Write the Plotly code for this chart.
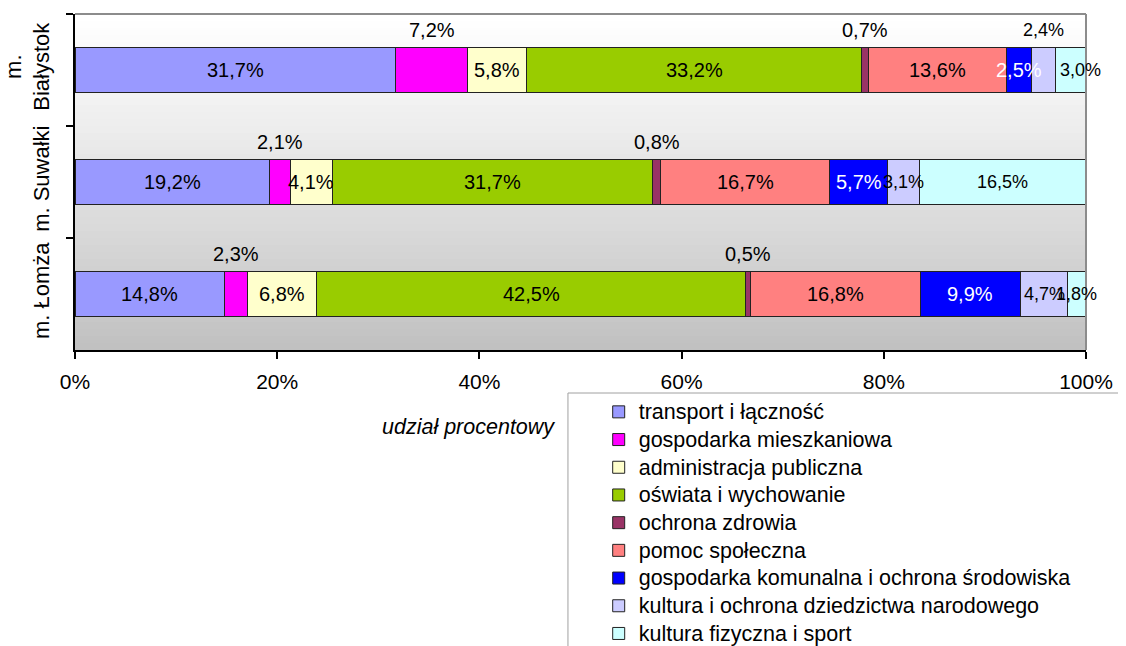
import plotly.graph_objects as go

# ---- data ----
cities = ["m.<br>Białystok", "m. Suwałki", "m. Łomża"]
series_names = [
    "transport i łączność",
    "gospodarka mieszkaniowa",
    "administracja publiczna",
    "oświata i wychowanie",
    "ochrona zdrowia",
    "pomoc społeczna",
    "gospodarka komunalna i ochrona środowiska",
    "kultura i ochrona dziedzictwa narodowego",
    "kultura fizyczna i sport",
]
transport = [31.7, 19.2, 14.8]
gosp_mieszk = [7.2, 2.1, 2.3]
administracja = [5.8, 4.1, 6.8]
oswiata = [33.2, 31.7, 42.5]
ochrona_zdrowia = [0.7, 0.8, 0.5]
pomoc = [13.6, 16.7, 16.8]
gosp_komunalna = [2.5, 5.7, 9.9]
kultura = [2.4, 3.1, 4.7]
sport = [3.0, 16.5, 1.8]
values = [transport, gosp_mieszk, administracja, oswiata, ochrona_zdrowia,
          pomoc, gosp_komunalna, kultura, sport]
x_ticks = [0, 20, 40, 60, 80, 100]
x_tick_labels = ["0%", "20%", "40%", "60%", "80%", "100%"]

# ---- style ----
colors = ["#9999FF", "#FF00FF", "#FFFFCC", "#99CC00", "#993366",
          "#FF8080", "#0000FF", "#CCCCFF", "#CCFFFF"]
label_colors = ["black", "black", "black", "black", "black",
                "black", "white", "black", "black"]
label_sizes = [20, 20, 20, 20, 20, 20, 20, 18, 18]
# labels moved above the bar (series index, city index)
above = {(1, 0), (4, 0), (7, 0), (1, 1), (4, 1), (1, 2), (4, 2)}
xshift_map = {(8, 0): 10}
FONT = "Liberation Sans, Arial, sans-serif"

fig = go.Figure()
for name, vals, col in zip(series_names, values, colors):
    fig.add_trace(go.Bar(
        y=cities, x=vals, orientation="h",
        name=f'<span style="font-size:21.5px">{name}</span>',
        marker=dict(color=col, line=dict(color="#222222", width=1)),
        width=0.4, hoverinfo="skip",
    ))

# data labels computed from the data
annotations = []
for j, city in enumerate(cities):
    total = sum(v[j] for v in values)
    cum = 0.0
    for i, vals in enumerate(values):
        v = vals[j]
        center = (cum + v / 2) / total * 100
        cum += v
        txt = f"{v:.1f}".replace(".", ",") + "%"
        is_above = (i, j) in above
        annotations.append(dict(
            x=center, y=city, xref="x", yref="y", text=txt, showarrow=False,
            yshift=40 if is_above else 0,
            xshift=xshift_map.get((i, j), 0),
            font=dict(family=FONT, size=label_sizes[i],
                      color="black" if is_above else label_colors[i]),
        ))

# axis title
annotations.append(dict(
    x=0.3897, y=-0.229, xref="paper", yref="paper", text="udział procentowy",
    showarrow=False, xanchor="center", yanchor="middle",
    font=dict(family=FONT, size=21.5, color="black", style="italic"),
))

shapes = []
N = 48
for k in range(N):
    y0 = k / N
    y1 = (k + 1) / N
    frac = 1 - (y0 + y1) / 2
    g = int(round(255 - 63 * frac ** 1.15))
    shapes.append(dict(type="rect", xref="x domain", yref="y domain",
                       x0=0, x1=1, y0=y0, y1=y1 + 0.002, layer="below",
                       line=dict(width=0), fillcolor=f"rgb({g},{g},{g})"))
# gray top/right border
shapes.append(dict(type="line", xref="x domain", yref="y domain",
                   x0=0, x1=1, y0=1, y1=1, line=dict(color="#8c8c8c", width=2)))
shapes.append(dict(type="line", xref="x domain", yref="y domain",
                   x0=1, x1=1, y0=0, y1=1, line=dict(color="#8c8c8c", width=2)))
# legend box
shapes.append(dict(type="rect", xref="paper", yref="paper",
                   x0=0.4876, x1=1.07, y0=-0.128, y1=-0.97,
                   line=dict(color="#a0a0a0", width=1), fillcolor="rgba(0,0,0,0)"))

fig.update_layout(
    width=1118, height=638,
    margin=dict(l=67, r=40, t=6, b=296, autoexpand=False),
    barmode="stack", barnorm="percent",
    paper_bgcolor="white", plot_bgcolor="white",
    font=dict(family=FONT, color="black"),
    showlegend=True,
    legend=dict(
        x=0.518, y=-0.128, xanchor="left", yanchor="top",
        traceorder="normal", font=dict(family=FONT, size=19, color="black"),
        bgcolor="rgba(0,0,0,0)", borderwidth=0, itemwidth=30,
    ),
    xaxis=dict(
        range=[0, 100], tickvals=x_ticks, ticktext=x_tick_labels,
        showgrid=False, zeroline=False, showline=True, linecolor="black",
        linewidth=2, ticks="outside", ticklen=7, tickwidth=2, tickcolor="black",
        ticklabelstandoff=5,
        tickfont=dict(family=FONT, size=21, color="black"),
    ),
    yaxis=dict(
        autorange="reversed", tickangle=-90, tickson="boundaries",
        showgrid=False, zeroline=False, showline=True, linecolor="black",
        linewidth=2, ticks="outside", ticklen=7, tickwidth=2, tickcolor="black",
        ticklabelstandoff=15,
        tickfont=dict(family=FONT, size=22, color="black"),
    ),
    annotations=annotations,
    shapes=shapes,
)

fig.write_html("out.html")
